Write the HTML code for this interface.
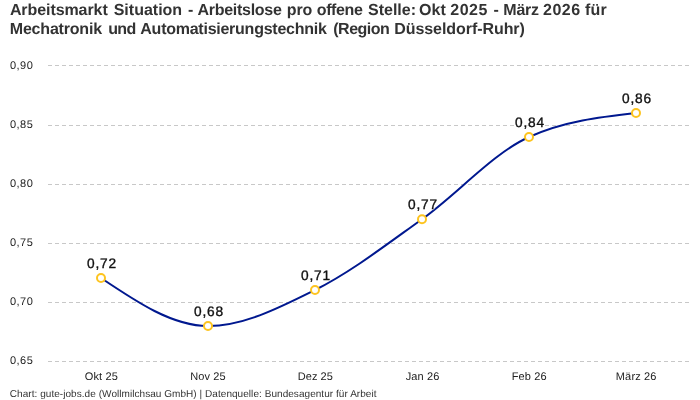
<!DOCTYPE html>
<html lang="de"><head><meta charset="utf-8"><title>Arbeitsmarkt Situation</title>
<style>
html,body{margin:0;padding:0;background:#fff}
body{width:700px;height:400px;position:relative;overflow:hidden;font-family:"Liberation Sans",sans-serif;color:#222;text-rendering:geometricPrecision}
.t{position:absolute;left:0;width:700px;height:20px;font-weight:bold;font-size:16px;line-height:18px;color:#333;white-space:nowrap}
.t span{position:absolute;top:0}
.t1{top:2px} .t2{top:21px}
svg{position:absolute;left:0;top:0}
.yl{position:absolute;left:9.9px;font-size:11px;letter-spacing:.53px;line-height:12px;height:12px;white-space:nowrap}
.xl{position:absolute;top:371px;font-size:11px;line-height:12px;white-space:nowrap}
.vl{position:absolute;font-size:13.7px;letter-spacing:.9px;-webkit-text-stroke:.35px #111;line-height:16px;color:#111;white-space:nowrap;text-shadow:0 0 2px #fff,0 0 2px #fff,1px 0 0 #fff,-1px 0 0 #fff,0 1px 0 #fff,0 -1px 0 #fff}
.f{position:absolute;left:9.8px;top:389px;font-size:10px;letter-spacing:.053px;line-height:12px;color:#333;white-space:nowrap}
</style></head><body>
<div class="t t1"><span style="left:9.9px;letter-spacing:-0.08px">Arbeitsmarkt</span> <span style="left:113.7px;letter-spacing:-0px">Situation</span> <span style="left:187.9px;letter-spacing:0px">-</span> <span style="left:197.5px;letter-spacing:-0.28px">Arbeitslose</span> <span style="left:286.8px;letter-spacing:-0.12px">pro</span> <span style="left:316.75px;letter-spacing:-0.37px">offene</span> <span style="left:368px;letter-spacing:0px">Stelle:</span> <span style="left:419.05px;letter-spacing:0.07px">Okt</span> <span style="left:450.3px;letter-spacing:0.48px">2025</span> <span style="left:493.45px;letter-spacing:0px">-</span> <span style="left:503.3px;letter-spacing:-0.25px">März</span> <span style="left:543px;letter-spacing:0.5px">2026</span> <span style="left:585.05px;letter-spacing:0.18px">für</span></div>
<div class="t t2"><span style="left:9.8px;letter-spacing:-0.2px">Mechatronik</span> <span style="left:108.2px;letter-spacing:-0.63px">und</span> <span style="left:140.3px;letter-spacing:-0.25px">Automatisierungstechnik</span> <span style="left:333.25px;letter-spacing:-0.49px">(Region</span> <span style="left:394.2px;letter-spacing:-0.06px">Düsseldorf-Ruhr)</span></div>
<svg width="700" height="400" viewBox="0 0 700 400">
<g fill="none" stroke="#c8c8c8" stroke-width="1" stroke-dasharray="4 3" shape-rendering="crispEdges"><path d="M48,65.5H690"/><path d="M48,125.5H690"/><path d="M48,184.5H690"/><path d="M48,243.5H690"/><path d="M48,302.5H690"/><path d="M48,361.5H690"/></g>
<path d="M101,278C136.67,302.00,172.33,326.00,208,326C243.67,326.00,279.33,307.80,315,290C350.67,272.20,386.33,244.70,422,219.2C457.67,193.70,493.33,153.00,529,137C564.67,121.00,600.33,117.00,636,113" fill="none" stroke="#00188f" stroke-width="2" stroke-linecap="round"/>
<g fill="#fff" stroke="#fdc41f" stroke-width="2"><circle cx="101" cy="278" r="4"/><circle cx="208" cy="326" r="4"/><circle cx="315" cy="290" r="4"/><circle cx="422" cy="219.2" r="4"/><circle cx="529" cy="137" r="4"/><circle cx="636" cy="113" r="4"/></g>
</svg>
<div class="yl" style="top:60px">0,90</div><div class="yl" style="top:119px">0,85</div><div class="yl" style="top:178px">0,80</div><div class="yl" style="top:237px">0,75</div><div class="yl" style="top:296px">0,70</div><div class="yl" style="top:355px">0,65</div>
<div class="xl" style="left:84.7px;letter-spacing:0.18px">Okt 25</div><div class="xl" style="left:190.2px;letter-spacing:0.1px">Nov 25</div><div class="xl" style="left:297.8px;letter-spacing:0.02px">Dez 25</div><div class="xl" style="left:405.75px;letter-spacing:0.11px">Jan 26</div><div class="xl" style="left:511.8px;letter-spacing:0.09px">Feb 26</div><div class="xl" style="left:615.8px;letter-spacing:0.16px">März 26</div>
<div class="vl" style="left:86.9px;top:256px">0,72</div><div class="vl" style="left:193.9px;top:304px">0,68</div><div class="vl" style="left:300.9px;top:268px">0,71</div><div class="vl" style="left:407.9px;top:197px">0,77</div><div class="vl" style="left:514.9px;top:115px">0,84</div><div class="vl" style="left:621.9px;top:91px">0,86</div>
<div class="f">Chart: gute-jobs.de (Wollmilchsau GmbH) | Datenquelle: Bundesagentur für Arbeit</div>
</body></html>
